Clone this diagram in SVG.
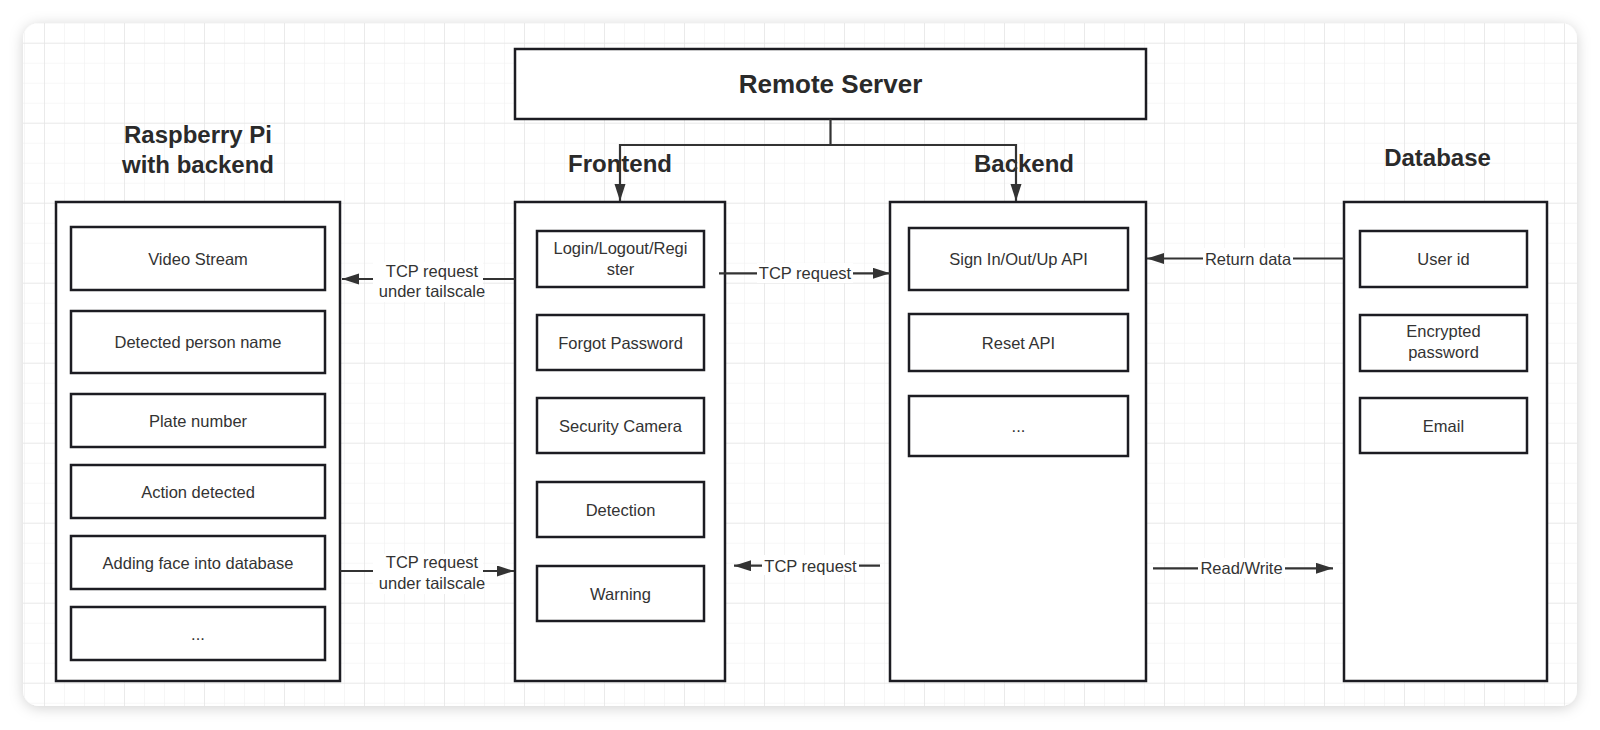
<svg xmlns="http://www.w3.org/2000/svg" width="1600" height="730" viewBox="0 0 1600 730">
<defs>
<style>
.box{fill:#fff;stroke:#1c1c22;stroke-width:2.5}
.t{font-family:"Liberation Sans",Arial,sans-serif;font-size:16.5px;fill:#333;text-anchor:middle}
.h{font-family:"Liberation Sans",Arial,sans-serif;font-size:24px;font-weight:bold;fill:#2a2a2a;text-anchor:middle}
.c{stroke:#333;stroke-width:2.2;fill:none}
.lb{fill:#fff}
</style>
<filter id="sh" x="-5%" y="-10%" width="110%" height="120%">
<feDropShadow dx="0" dy="2" stdDeviation="7" flood-color="#000" flood-opacity="0.18"/>
</filter>
<pattern id="minor" patternUnits="userSpaceOnUse" x="4" y="2.7" width="20" height="20">
<path d="M0 0H20M0 0V20" stroke="#f0f0f0" stroke-width="1.2" fill="none"/>
</pattern>
<pattern id="major" patternUnits="userSpaceOnUse" x="44" y="42.7" width="80" height="80">
<path d="M0 0H80M0 0V80" stroke="#e6e6e6" stroke-width="1.5" fill="none"/>
</pattern>
<clipPath id="cardclip"><rect x="23" y="23" width="1554" height="683" rx="16"/></clipPath>
<marker id="ah" markerUnits="userSpaceOnUse" markerWidth="18" markerHeight="12" refX="17" refY="5.5" orient="auto">
<path d="M0 0L17 5.5L0 11z" fill="#333"/>
</marker>
</defs>
<rect width="1600" height="730" fill="#fff"/>
<rect x="23" y="23" width="1554" height="683" rx="16" fill="#fff" filter="url(#sh)"/>
<g clip-path="url(#cardclip)">
<rect x="23" y="23" width="1554" height="683" fill="url(#minor)"/>
<rect x="23" y="23" width="1554" height="683" fill="url(#major)"/>
</g>

<g id="remote-server">
<rect class="box" x="515" y="49" width="631" height="70"/>
<text class="h" x="830.5" y="92.7" style="font-size:26px">Remote Server</text>
</g>

<g id="raspberry-pi">
<text class="h" x="198" y="142.7">Raspberry Pi</text>
<text class="h" x="198" y="173">with backend</text>
<rect class="box" x="56" y="202" width="284" height="479"/>
<g id="rpi-video"><rect class="box" x="71" y="227" width="254" height="63"/><text class="t" x="198" y="264.5">Video Stream</text></g>
<g id="rpi-person"><rect class="box" x="71" y="311" width="254" height="62"/><text class="t" x="198" y="348">Detected person name</text></g>
<g id="rpi-plate"><rect class="box" x="71" y="394" width="254" height="53"/><text class="t" x="198" y="426.5">Plate number</text></g>
<g id="rpi-action"><rect class="box" x="71" y="465" width="254" height="53"/><text class="t" x="198" y="497.5">Action detected</text></g>
<g id="rpi-face"><rect class="box" x="71" y="536" width="254" height="53"/><text class="t" x="198" y="568.5">Adding face into database</text></g>
<g id="rpi-more"><rect class="box" x="71" y="607" width="254" height="53"/><text class="t" x="198" y="639.5">...</text></g>
</g>

<g id="frontend">
<text class="h" x="620" y="171.5">Frontend</text>
<rect class="box" x="515" y="202" width="210" height="479"/>
<g id="fe-login"><rect class="box" x="537" y="231" width="167" height="56"/><text class="t" x="620.5" y="253.5">Login/Logout/Regi</text><text class="t" x="620.5" y="274.5">ster</text></g>
<g id="fe-forgot"><rect class="box" x="537" y="315" width="167" height="55"/><text class="t" x="620.5" y="348.5">Forgot Password</text></g>
<g id="fe-camera"><rect class="box" x="537" y="398" width="167" height="55"/><text class="t" x="620.5" y="431.5">Security Camera</text></g>
<g id="fe-detection"><rect class="box" x="537" y="482" width="167" height="55"/><text class="t" x="620.5" y="515.5">Detection</text></g>
<g id="fe-warning"><rect class="box" x="537" y="566" width="167" height="55"/><text class="t" x="620.5" y="599.5">Warning</text></g>
</g>

<g id="backend">
<text class="h" x="1024" y="171.5">Backend</text>
<rect class="box" x="890" y="202" width="256" height="479"/>
<g id="be-sign"><rect class="box" x="909" y="228" width="219" height="62"/><text class="t" x="1018.5" y="265">Sign In/Out/Up API</text></g>
<g id="be-reset"><rect class="box" x="909" y="314" width="219" height="57"/><text class="t" x="1018.5" y="348.5">Reset API</text></g>
<g id="be-more"><rect class="box" x="909" y="396" width="219" height="60"/><text class="t" x="1018.5" y="432">...</text></g>
</g>

<g id="database">
<text class="h" x="1437.5" y="166">Database</text>
<rect class="box" x="1344" y="202" width="203" height="479"/>
<g id="db-user"><rect class="box" x="1360" y="231" width="167" height="56"/><text class="t" x="1443.5" y="265">User id</text></g>
<g id="db-pass"><rect class="box" x="1360" y="315" width="167" height="56"/><text class="t" x="1443.5" y="337.3">Encrypted</text><text class="t" x="1443.5" y="358.3">password</text></g>
<g id="db-email"><rect class="box" x="1360" y="398" width="167" height="55"/><text class="t" x="1443.5" y="431.5">Email</text></g>
</g>

<g id="connectors">
<path class="c" d="M830.5 119V145H620V201" marker-end="url(#ah)"/>
<path class="c" d="M830.5 145H1016V201" marker-end="url(#ah)"/>

<path class="c" d="M515 279H342" marker-end="url(#ah)"/>
<rect class="lb" x="373" y="262" width="110" height="40"/>
<text class="t" x="432" y="276.5">TCP request</text>
<text class="t" x="432" y="297">under tailscale</text>

<path class="c" d="M340 571H514" marker-end="url(#ah)"/>
<rect class="lb" x="373" y="554" width="110" height="40"/>
<text class="t" x="432" y="568">TCP request</text>
<text class="t" x="432" y="589">under tailscale</text>

<path class="c" d="M719 273.3H890" marker-end="url(#ah)"/>
<rect class="lb" x="757" y="263" width="96" height="20"/>
<text class="t" x="805" y="279.3">TCP request</text>

<path class="c" d="M880 565.7H734" marker-end="url(#ah)"/>
<rect class="lb" x="762" y="555" width="97" height="20"/>
<text class="t" x="810.5" y="571.7">TCP request</text>

<path class="c" d="M1344 258.5H1147" marker-end="url(#ah)"/>
<rect class="lb" x="1203" y="248" width="90" height="20"/>
<text class="t" x="1248" y="264.5">Return data</text>

<path class="c" d="M1153 568.3H1333" marker-end="url(#ah)"/>
<rect class="lb" x="1198" y="558" width="87" height="20"/>
<text class="t" x="1241.5" y="574.3">Read/Write</text>
</g>
</svg>
